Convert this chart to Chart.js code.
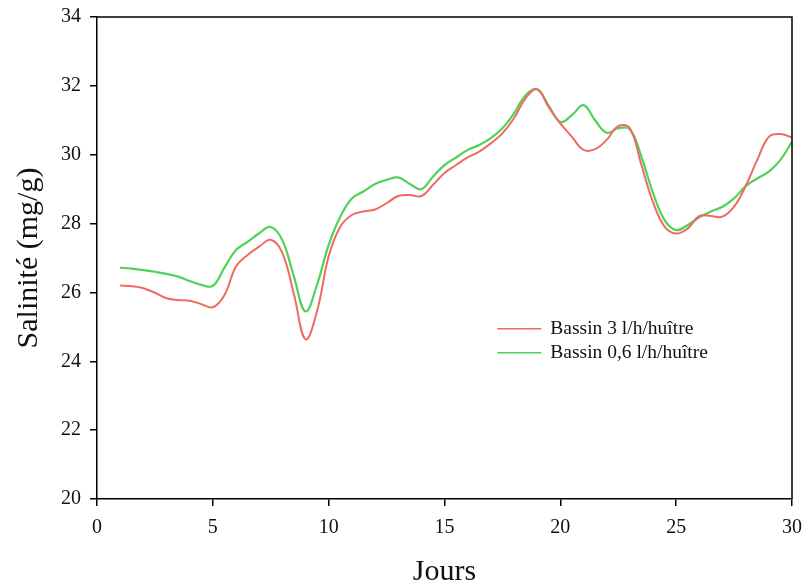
<!DOCTYPE html>
<html>
<head>
<meta charset="utf-8">
<script src="https://cdn.jsdelivr.net/npm/chart.js@4"></script>
<style>
  body { margin: 0; background: #fff; }
</style>
</head>
<body>
<canvas id="myChart" width="806" height="587"></canvas>
<script>
// setup
const jours = [1, 1.5, 2, 2.5, 3, 3.5, 4, 4.5, 5, 5.5, 6, 6.5, 7, 7.5, 8, 8.5, 9, 9.5, 10, 10.5,
  11, 11.5, 12, 12.5, 13, 13.5, 14, 14.5, 15, 15.5, 16, 16.5, 17, 17.5, 18, 18.5, 19, 19.5, 20, 20.5,
  21, 21.5, 22, 22.5, 23, 23.5, 24, 24.5, 25, 25.5, 26, 26.5, 27, 27.5, 28, 28.5, 29, 29.5, 30];

// Bassin 3 l/h/huître
const bassin3 = [26.20, 26.18, 26.12, 25.99, 25.83, 25.78, 25.76, 25.66, 25.57, 25.92,
  26.75, 27.09, 27.33, 27.53, 27.15, 25.95, 24.64, 25.46, 27.05, 27.91,
  28.25, 28.35, 28.41, 28.59, 28.80, 28.83, 28.80, 29.12, 29.47, 29.70,
  29.92, 30.09, 30.33, 30.62, 31.06, 31.64, 31.90, 31.38, 30.91, 30.52,
  30.14, 30.16, 30.43, 30.83, 30.77, 29.70, 28.62, 27.91, 27.71, 27.86,
  28.22, 28.22, 28.20, 28.49, 29.09, 29.85, 30.52, 30.60, 30.50];

// Bassin 0,6 l/h/huître
const bassin06 = [26.72, 26.69, 26.65, 26.60, 26.54, 26.46, 26.33, 26.22, 26.19, 26.72,
  27.23, 27.47, 27.72, 27.90, 27.52, 26.46, 25.45, 26.23, 27.38, 28.20,
  28.73, 28.93, 29.15, 29.27, 29.34, 29.15, 29.00, 29.36, 29.70, 29.92,
  30.14, 30.28, 30.48, 30.77, 31.20, 31.73, 31.90, 31.42, 30.95, 31.15,
  31.44, 31.00, 30.64, 30.77, 30.74, 29.94, 28.89, 28.10, 27.81, 27.96,
  28.18, 28.35, 28.49, 28.73, 29.09, 29.31, 29.51, 29.85, 30.38];

const xTicks = [0, 5, 10, 15, 20, 25, 30];
const yTicks = [20, 22, 24, 26, 28, 30, 32, 34];

const serif = '"Liberation Serif", "Times New Roman", serif';

const toPoints = (vals) => vals.map((v, i) => ({ x: jours[i], y: v }));

const data = {
  datasets: [{
    label: 'Bassin 3 l/h/huître',
    data: toPoints(bassin3),
    borderColor: '#ef6a60',
    borderWidth: 2,
    pointRadius: 0,
    tension: 0.4
  }, {
    label: 'Bassin 0,6 l/h/huître',
    data: toPoints(bassin06),
    borderColor: '#4fd25a',
    borderWidth: 2.2,
    pointRadius: 0,
    tension: 0.4
  }]
};

// closes the box on top and right
const frame = {
  id: 'frame',
  afterDatasetsDraw(chart) {
    const { ctx, chartArea: a } = chart;
    ctx.save();
    ctx.strokeStyle = '#000';
    ctx.lineWidth = 1.5;
    ctx.beginPath();
    ctx.moveTo(a.left, a.top);
    ctx.lineTo(a.right, a.top);
    ctx.lineTo(a.right, a.bottom);
    ctx.stroke();
    ctx.restore();
  }
};

// legend drawn inside the plot area
const innerLegend = {
  id: 'innerLegend',
  afterDraw(chart, args, opts) {
    const { ctx, chartArea: a } = chart;
    const x = a.left + opts.fx * (a.right - a.left);
    let y = a.top + opts.fy * (a.bottom - a.top);
    ctx.save();
    ctx.font = '19.5px ' + serif;
    ctx.textBaseline = 'middle';
    ctx.fillStyle = '#111';
    chart.data.datasets.forEach(ds => {
      ctx.strokeStyle = ds.borderColor;
      ctx.lineWidth = 1.5;
      ctx.beginPath();
      ctx.moveTo(x, y);
      ctx.lineTo(x + 44, y);
      ctx.stroke();
      ctx.fillText(ds.label, x + 53, y);
      y += 24;
    });
    ctx.restore();
  }
};

// config
const config = {
  type: 'line',
  data,
  options: {
    responsive: false,
    animation: false,
    layout: { padding: { top: 17, right: 14, left: 0, bottom: 0 } },
    plugins: {
      legend: { display: false },
      tooltip: { enabled: false },
      innerLegend: { fx: 0.576, fy: 0.647 }
    },
    scales: {
      x: {
        type: 'linear',
        min: 0,
        max: 30,
        afterBuildTicks: (s) => { s.ticks = xTicks.map(v => ({ value: v })); },
        afterFit: (s) => { s.height = 88; s.paddingLeft = 0; s.paddingRight = 0; },
        ticks: { color: '#111', padding: 10, font: { family: serif, size: 20 } },
        grid: { drawOnChartArea: false, color: '#000', lineWidth: 1.5, tickLength: 7 },
        border: { color: '#000', width: 1.5 },
        title: { display: true, text: 'Jours', color: '#111', padding: { top: 0, bottom: 0 },
          font: { family: serif, size: 30, lineHeight: 1.0 } }
      },
      y: {
        min: 20,
        max: 34,
        afterBuildTicks: (s) => { s.ticks = yTicks.map(v => ({ value: v })); },
        afterFit: (s) => { s.width = 97; s.paddingTop = 0; s.paddingBottom = 0; },
        ticks: { color: '#111', padding: 9, font: { family: serif, size: 20 } },
        grid: { drawOnChartArea: false, color: '#000', lineWidth: 1.5, tickLength: 7 },
        border: { color: '#000', width: 1.5 },
        title: { display: true, text: 'Salinité (mg/g)', color: '#111', padding: { top: 14, bottom: 0 },
          font: { family: serif, size: 30, lineHeight: 1.0 } }
      }
    }
  },
  plugins: [frame, innerLegend]
};

// render init block
const myChart = new Chart(
  document.getElementById('myChart'),
  config
);
</script>
</body>
</html>
